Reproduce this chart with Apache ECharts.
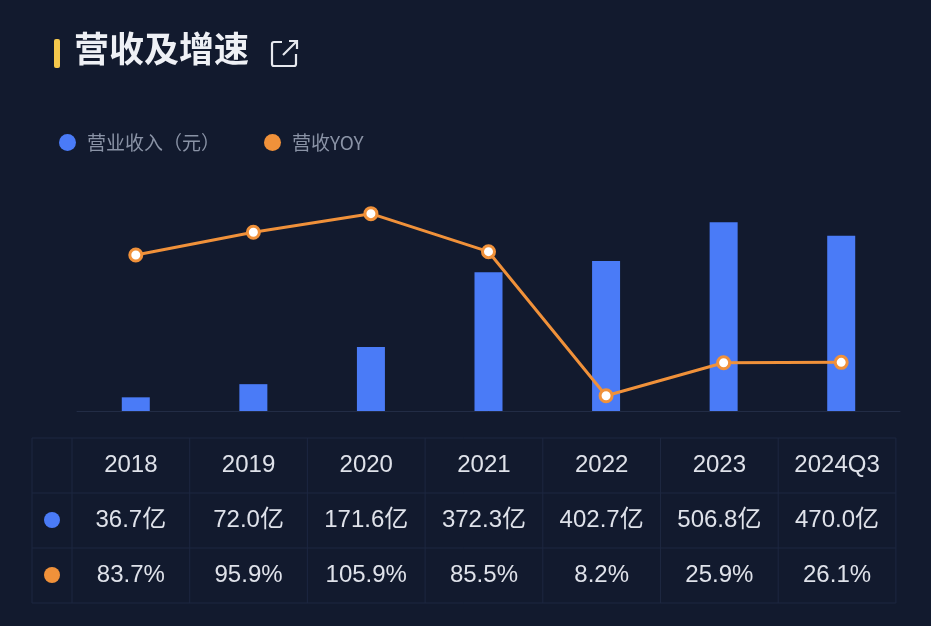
<!DOCTYPE html>
<html><head><meta charset="utf-8">
<script src="https://cdn.jsdelivr.net/npm/echarts@6/dist/echarts.min.js"></script>
<style>html,body{margin:0;background:#121a2e}#c{width:931px;height:626px}</style>
</head><body><div id="c"></div>
<script>
var years = ['2018','2019','2020','2021','2022','2023','2024Q3'];
var revenue = [36.7, 72.0, 171.6, 372.3, 402.7, 506.8, 470.0];
var yoy = [83.7, 95.9, 105.9, 85.5, 8.2, 25.9, 26.1];

var chart = echarts.init(document.getElementById('c'));
var font = '"Noto Sans CJK SC", sans-serif';
var numFont = '"Liberation Sans", "Noto Sans CJK SC", sans-serif';
var colL = 32, col0 = 72, colW = 117.7, rowTops = [438, 493, 548], rowH = 55;
var lineColor = '#1d2740';
var g = [
  {type:'rect', shape:{x:54,y:39,width:6,height:29,r:2}, style:{fill:'#f5c84c'}},
  {type:'text', left:74, top:31, style:{text:'营收及增速', fill:'#eef0f5', font:'bold 35px ' + font}},
  {type:'rect', shape:{x:272,y:42,width:24,height:24,r:2}, style:{fill:'none', stroke:'#e6e8ee', lineWidth:2.2}},
  {type:'rect', shape:{x:282,y:38,width:18,height:16}, style:{fill:'#121a2e'}},
  {type:'polyline', shape:{points:[[283,55],[297,41]]}, style:{stroke:'#e6e8ee', lineWidth:2.2}},
  {type:'polyline', shape:{points:[[289,41],[297,41],[297,49]]}, style:{stroke:'#e6e8ee', lineWidth:2.2, fill:'none'}}
];
var tableR = col0 + colW * years.length;
[438, 493, 548, 603].forEach(function (y) {
  g.push({type:'line', shape:{x1:colL,y1:y,x2:tableR,y2:y}, style:{stroke:lineColor, lineWidth:1}});
});
g.push({type:'line', shape:{x1:colL,y1:438,x2:colL,y2:603}, style:{stroke:lineColor}});
for (var i = 0; i <= years.length; i++) {
  var x = col0 + colW * i;
  g.push({type:'line', shape:{x1:x,y1:438,x2:x,y2:603}, style:{stroke:lineColor}});
}
g.push({type:'circle', shape:{cx:52,cy:520,r:8}, style:{fill:'#4a7bf7'}});
g.push({type:'circle', shape:{cx:52,cy:575,r:8}, style:{fill:'#f0913a'}});
years.forEach(function (y, i) {
  var cx = col0 + colW * (i + 0.5);
  var cells = [y, revenue[i].toFixed(1) + '亿', yoy[i].toFixed(1) + '%'];
  cells.forEach(function (t, r) {
    g.push({type:'text', x:cx, y:rowTops[r] + rowH / 2, style:{text:t, fill:'#dfe2ea', font:'24px ' + numFont, align:'center', verticalAlign:'middle'}});
  });
});

chart.setOption({
  backgroundColor:'#121a2e',
  textStyle:{fontFamily:font},
  legend:{left:54, top:128, itemWidth:17, itemHeight:17, itemGap:44, icon:'circle',
    textStyle:{color:'#8a93a6', fontSize:19, padding:[0,0,0,6]},
    data:[{name:'营业收入（元）', itemStyle:{color:'#4a7bf7'}},
          {name:'营收YOY', itemStyle:{color:'#f0913a', borderWidth:0}}]},
  grid:{left:77, right:31, top:190, bottom:215},
  xAxis:{type:'category', data:years, axisLabel:{show:false}, axisTick:{show:false},
    axisLine:{lineStyle:{color:'#222c45'}}},
  yAxis:[
    {type:'value', min:0, max:593, show:false},
    {type:'value', min:0, max:118.6, show:false}
  ],
  series:[
    {name:'营业收入（元）', type:'bar', data:revenue, barWidth:28, itemStyle:{color:'#4a7bf7'}},
    {name:'营收YOY', type:'line', yAxisIndex:1, data:yoy, symbol:'circle', symbolSize:12,
      lineStyle:{color:'#f0913a', width:3}, itemStyle:{color:'#fff', borderColor:'#f0913a', borderWidth:3}}
  ],
  graphic:g
});
</script></body></html>
